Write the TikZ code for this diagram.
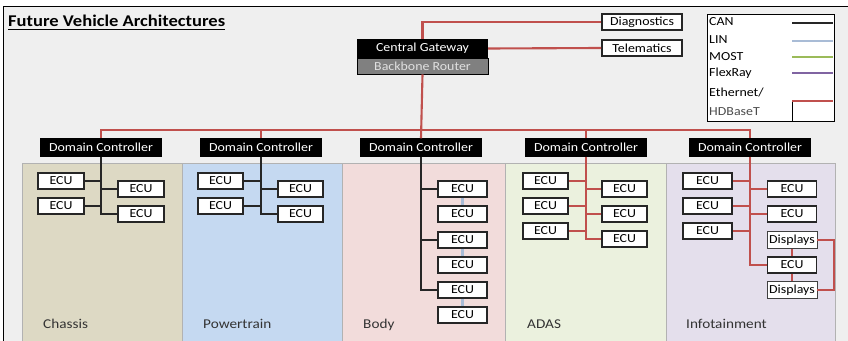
\documentclass[tikz,border=0pt]{standalone}
\usepackage{fontspec}
\setmainfont{Carlito}[FakeStretch=1.13]
\usepackage{xcolor}
\usepackage{tikz}

\definecolor{ethred}{HTML}{C0504D}
\definecolor{linblue}{HTML}{A9BCD6}
\definecolor{mostgreen}{HTML}{9BBB59}
\definecolor{flexpurple}{HTML}{8064A2}
\definecolor{sheetgray}{HTML}{EFEFEF}
\definecolor{chassisbg}{HTML}{DDD9C4}
\definecolor{powerbg}{HTML}{C5D9F1}
\definecolor{bodybg}{HTML}{F2DCDB}
\definecolor{adasbg}{HTML}{EBF1DE}
\definecolor{infobg}{HTML}{E4DFEC}

\begin{document}
\begin{tikzpicture}[x=0.03cm, y=-0.03cm,
	every node/.style={font=\fontsize{10.5}{12}\selectfont, inner sep=0pt},
	ecu/.style={draw=black!85, line width=1.6pt, fill=white, minimum width=1.36cm, minimum height=0.48cm},
	ecuwide/.style={ecu, minimum width=1.47cm},
	display/.style={draw=black!75, line width=0.6pt, fill=white, minimum width=1.5cm, minimum height=0.5cm},
	dc/.style={fill=black, text=white, minimum width=3.66cm, minimum height=0.54cm},
	extbox/.style={draw=black!85, line width=1.6pt, fill=white, minimum width=2.4cm, minimum height=0.48cm},
	panel/.style={draw=black!30, line width=0.8pt},
	panellabel/.style={anchor=base west, font=\fontsize{11.5}{13}\selectfont, text=black!80},
	legendlabel/.style={anchor=base west},
	can/.style={line width=1.8pt, black!85},
	lin/.style={line width=1.8pt, linblue},
	eth/.style={line width=1.8pt, ethred}]
				\useasboundingbox (0,0) rectangle (848,341);
				\fill[white] (0,0) rectangle (848,341);
				\fill[sheetgray] (3,6) rectangle (848,341);
				\draw[line width=0.8pt] (3,341) -- (3,6) -- (848,6);
				
				% domains
				\draw[panel, fill=chassisbg] (22,163) rectangle (182,341);
				\draw[panel, fill=powerbg] (182,163) rectangle (342,341);
				\draw[panel, fill=bodybg] (342,163) rectangle (505,341);
				\draw[panel, fill=adasbg] (505,163) rectangle (666,341);
				\draw[panel, fill=infobg] (666,163) rectangle (835,341);
				\node (chassis) at (43,328) [panellabel] {Chassis};
				\node (powertrain) at (203,328) [panellabel] {Powertrain};
				\node (body) at (363,328) [panellabel] {Body};
				\node (adas) at (527,328) [panellabel] {ADAS};
				\node (infotainment) at (686,328) [panellabel] {Infotainment};
				
				\node (title) at (8,27) [anchor=base west, font=\bfseries\fontsize{14}{16}\selectfont] {\underline{Future Vehicle Architectures}};
				
				% gateway
				\node (gw) at (422.5,48.5) [fill=black, text=white, minimum width=3.93cm, minimum height=0.57cm] {Central Gateway};
				\node (router) at (422.5,66) [draw=black, line width=0.8pt, fill=black!50, text=black!12, minimum width=3.93cm, minimum height=0.48cm] {Backbone Router};
				\node (diag) at (642,22) [extbox] {Diagnostics};
				\node (tele) at (642,48) [extbox] {Telematics};
				\draw[eth] (gw.north) |- (diag.west);
				\draw[eth] (gw.east) -- (tele.west);
				
				% legend
				\node (legend) at (770.5,67.5) [draw, line width=0.8pt, fill=white, minimum width=3.81cm, minimum height=3.21cm] {};
				\node (lcan) at (709,26) [legendlabel] {CAN};
				\node (llin) at (709,44) [legendlabel] {LIN};
				\node (lmost) at (709,61) [legendlabel] {MOST};
				\node (lflex) at (709,77) [legendlabel] {FlexRay};
				\node (leth) at (709,97) [legendlabel] {Ethernet/};
				\node (lhdb) at (709,116) [legendlabel, text=black!70] {HDBaseT};
				\draw[can] (792,23) -- (833,23);
				\draw[lin] (792,41) -- (833,41);
				\draw[line width=1.8pt, mostgreen] (792,57) -- (833,57);
				\draw[line width=1.8pt, flexpurple] (792,73) -- (833,73);
				\draw[eth] (792,101) -- (833,101);
				\draw[line width=0.6pt] (792,102) -- (792,121);
				
				% domain controllers
				\node (dc1) at (101,147.5) [dc] {Domain Controller};
				\node (dc2) at (261,147.5) [dc] {Domain Controller};
				\node (dc3) at (421,147.5) [dc] {Domain Controller};
				\node (dc4) at (586,147.5) [dc] {Domain Controller};
				\node (dc5) at (750,147.5) [dc] {Domain Controller};
				\draw[eth] (router.south) -- (dc3.north);
				\draw[eth] (dc1.north) -- ++(0,-8) -| (dc5.north);
				\draw[eth] (dc2.north) -- ++(0,-8);
				\draw[eth] (dc4.north) -- ++(0,-8);
				
				% chassis
				\node (ch1) at (61,181) [ecu] {ECU};
				\node (ch2) at (61,206) [ecu] {ECU};
				\node (ch3) at (141,189) [ecu] {ECU};
				\node (ch4) at (141,214) [ecu] {ECU};
				\draw[can] (dc1.south) |- (ch4.west);
				\draw[can] (ch1.east) -- (ch1.east -| dc1.south);
				\draw[can] (ch2.east) -- (ch2.east -| dc1.south);
				\draw[can] (dc1.south |- ch3.west) -- (ch3.west);
				
				% powertrain
				\node (pt1) at (220.5,181) [ecu] {ECU};
				\node (pt2) at (220.5,206) [ecu] {ECU};
				\node (pt3) at (300.5,189) [ecu] {ECU};
				\node (pt4) at (300.5,214) [ecu] {ECU};
				\draw[can] (dc2.south) |- (pt4.west);
				\draw[can] (pt1.east) -- (pt1.east -| dc2.south);
				\draw[can] (pt2.east) -- (pt2.east -| dc2.south);
				\draw[can] (dc2.south |- pt3.west) -- (pt3.west);
				
				% body
				\node (bd1) at (462.5,189) [ecuwide] {ECU};
				\node (bd2) at (462.5,214) [ecuwide] {ECU};
				\node (bd3) at (462.5,240) [ecuwide] {ECU};
				\node (bd4) at (462.5,265) [ecuwide] {ECU};
				\node (bd5) at (462.5,290) [ecuwide] {ECU};
				\node (bd6) at (462.5,315) [ecuwide] {ECU};
				\draw[can] (dc3.south) |- (bd5.west);
				\draw[can] (dc3.south |- bd1.west) -- (bd1.west);
				\draw[can] (dc3.south |- bd3.west) -- (bd3.west);
				\draw[lin] (bd1.south) -- (bd2.north);
				\draw[lin] (bd3.south) -- (bd4.north);
				\draw[lin] (bd5.south) -- (bd6.north);
				
				% adas
				\node (ad1) at (545.5,181) [ecu] {ECU};
				\node (ad2) at (545.5,206) [ecu] {ECU};
				\node (ad3) at (545.5,231) [ecu] {ECU};
				\node (ad4) at (624.5,189) [ecu] {ECU};
				\node (ad5) at (624.5,214) [ecu] {ECU};
				\node (ad6) at (624.5,239) [ecu] {ECU};
				\draw[eth] (dc4.south) |- (ad6.west);
				\draw[eth] (ad1.east) -- (ad1.east -| dc4.south);
				\draw[eth] (ad2.east) -- (ad2.east -| dc4.south);
				\draw[eth] (ad3.east) -- (ad3.east -| dc4.south);
				\draw[eth] (dc4.south |- ad4.west) -- (ad4.west);
				\draw[eth] (dc4.south |- ad5.west) -- (ad5.west);
				
				% infotainment
				\node (in1) at (707.5,181) [ecuwide] {ECU};
				\node (in2) at (707.5,206) [ecuwide] {ECU};
				\node (in3) at (707.5,231) [ecuwide] {ECU};
				\node (in4) at (792,189) [ecuwide] {ECU};
				\node (in5) at (792,214) [ecuwide] {ECU};
				\node (disp1) at (792,240) [display] {Displays};
				\node (in6) at (792,265) [ecuwide] {ECU};
				\node (disp2) at (792,290) [display] {Displays};
				\draw[eth] (dc5.south) |- (in6.west);
				\draw[eth] (in1.east) -- (in1.east -| dc5.south);
				\draw[eth] (in2.east) -- (in2.east -| dc5.south);
				\draw[eth] (in3.east) -- (in3.east -| dc5.south);
				\draw[eth] (dc5.south |- in4.west) -- (in4.west);
				\draw[eth] (dc5.south |- in5.west) -- (in5.west);
				\draw[eth] (disp1.south) -- (in6.north);
				\draw[eth] (in6.south) -- (disp2.north);
				\draw[eth] (disp1.east) -- ++(17,0) |- (disp2.east);
			\end{tikzpicture}
\end{document}
